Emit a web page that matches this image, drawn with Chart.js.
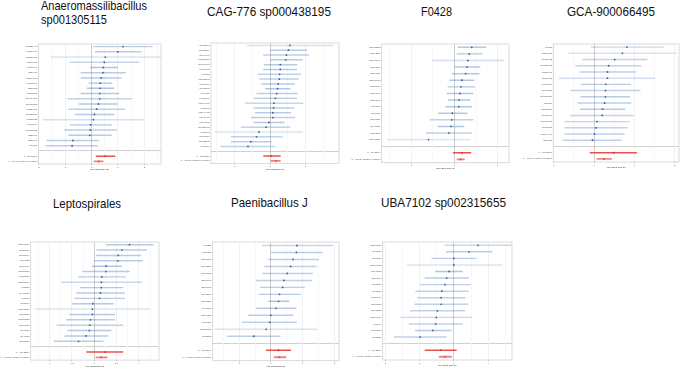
<!DOCTYPE html>
<html>
<head>
<meta charset="utf-8">
<script src="https://cdn.jsdelivr.net/npm/chart.js@4.4.1/dist/chart.umd.min.js"></script>
<style>
  body { margin: 0; background: #fff; }
  #wrap { position: relative; width: 685px; height: 369px; overflow: hidden; background: #fff; }
  .ttl { position: absolute; font: 13.5px 'Liberation Sans', Arial, sans-serif; line-height: 14px; color: #111; white-space: nowrap; transform-origin: 0 0; }
  canvas { position: absolute; }
</style>
</head>
<body>
<div id="wrap"></div>
<script>
// panel titles
const titles = [
  ['Anaeromassilibacillus', 'sp001305115'],
  ['CAG-776 sp000438195'],
  ['F0428'],
  ['GCA-900066495'],
  ['Leptospirales'],
  ['Paenibacillus J'],
  ['UBA7102 sp002315655']
]

// SNP labels per panel
const snps = [
  ['rs12221448','rs1267434','rs11380685','rs7068578','rs7801046','rs267419','rs11791176','rs7622781','rs269553','rs7590203','rs10914366','rs11757378','rs7234886','rs11432867','rs2185628','rs7891879','rs10617383','rs557960','rs297601','rs66295'],
  ['rs2432098','rs11382504','rs2941487','rs11384578','rs10867471','rs6660775','rs67575','rs11625902','rs9596184','rs1393989','rs699730','rs1176709','rs11619975','rs955662','rs11914432','rs7864700','rs7592405','rs10327965','rs821992','rs1396524','rs11722788','rs742601'],
  ['rs67635033','rs1192136','rs11668906','rs1176588','rs8896137','rs10028413','rs7258610','rs7296910','rs1203463','rs798180','rs687771','rs1916526','rs1476571','rs1185022','rs11669380'],
  ['rs9327','rs5568955','rs6659623','rs12375973','rs1558477','rs7060963','rs7096887','rs6962865','rs10138824','rs93587','rs11775603','rs6875976','rs11968173','rs1785515','rs11794974','rs728862'],
  ['rs10652901','rs4259981','rs7055704','rs897562','rs4598991','rs11750567','rs6255785','rs11172974','rs27585','rs4486021','rs40983','rs827976','rs10512876','rs6955063','rs11270552','rs7690803','rs671952','rs947558','rs2112567'],
  ['rs61251','rs256368','rs1250805','rs1672376','rs1381723','rs1266408','rs1266926','rs7712687','rs7593289','rs695762','rs1369730','rs890566','rs10834080','rs853763'],
  ['rs11270752','rs485930','rs789542','rs10249662','rs7927672','rs1292698','rs782519','rs715266','rs1387679','rs1321792','rs7422135','rs10668477','rs26997','rs7363298','rs125827']
]

// point estimates
const est = [
  [1.19,1.00,0.52,0.48,0.44,0.43,0.36,0.33,0.32,0.31,0.31,0.26,0.19,0.11,0.07,-0.04,-0.05,-0.07,-0.71,-0.74],
  [0.56,0.52,0.46,0.44,0.29,0.29,0.27,0.26,0.23,0.21,0.19,0.15,0.11,0.10,0.08,0.08,-0.03,-0.11,-0.31,-0.38,-0.54,-0.62],
  [0.40,0.34,0.31,0.29,0.26,0.17,0.15,0.13,0.11,0.10,-0.05,-0.06,-0.08,-0.13,-0.60],
  [0.81,0.70,0.51,0.36,0.33,0.33,0.29,0.28,0.28,0.26,0.21,0.20,0.07,0.05,0.01,-0.04],
  [0.79,0.62,0.54,0.53,0.27,0.26,0.17,0.16,0.16,0.14,0.12,-0.03,-0.04,-0.04,-0.08,-0.10,-0.11,-0.18,-0.35],
  [0.82,0.80,0.70,0.62,0.51,0.41,0.37,0.27,0.24,0.16,0.00,-0.04,-0.15,-0.54],
  [0.70,0.44,0.00,0.00,-0.14,-0.21,-0.26,-0.35,-0.37,-0.37,-0.48,-0.51,-0.53,-0.61,-0.98]
]
// lower 95% CI
const lower = [
  [0.09,0.14,-1.53,-0.81,-0.05,-0.41,-0.40,-0.10,-0.17,-0.41,-0.91,-0.47,-0.87,-0.62,-1.83,-0.81,-1.02,-0.87,-1.70,-1.73],
  [-0.64,0.01,-0.18,0.00,-0.16,-0.18,-0.34,-0.29,-0.23,-0.13,-0.37,-0.45,-0.69,-0.45,-0.41,-0.53,-0.45,-0.81,-1.55,-1.09,-1.09,-1.38],
  [0.08,0.06,-0.52,0.00,-0.05,-0.11,-0.15,-0.17,-0.14,-0.20,-0.37,-0.56,-0.38,-0.65,-1.55],
  [-0.07,-0.63,-0.28,-0.46,-0.36,-0.86,-0.32,-0.58,-0.33,-0.40,-0.34,-0.59,-0.73,-0.72,-0.73,-0.76],
  [0.27,0.06,0.04,0.00,-0.04,-0.26,-0.35,-0.73,-0.31,-0.39,-0.44,-0.49,-1.32,-0.55,-0.62,-0.83,-0.59,-0.66,-0.90],
  [-0.26,0.00,-0.07,-0.19,-0.26,-0.46,-0.33,-0.38,-0.07,-0.45,-0.70,-0.90,-1.76,-1.37],
  [-0.26,-0.22,-0.64,-1.36,-0.53,-0.84,-0.97,-1.11,-1.05,-1.14,-1.26,-1.54,-1.30,-1.12,-1.73]
]
// upper 95% CI
const upper = [
  [2.30,1.88,2.62,1.80,0.99,1.28,1.12,0.77,0.84,1.04,1.53,0.98,1.26,0.85,1.96,0.77,0.94,0.75,0.27,0.22],
  [1.77,1.03,1.09,0.91,0.75,0.75,0.86,0.79,0.69,0.56,0.77,0.75,0.93,0.67,0.58,0.70,0.40,0.56,0.92,0.35,0.03,0.14],
  [0.73,0.64,1.14,0.59,0.57,0.45,0.47,0.43,0.36,0.40,0.29,0.43,0.22,0.39,0.36],
  [1.71,2.04,1.31,1.16,1.02,1.50,0.90,1.14,0.88,0.92,0.76,0.97,0.87,0.82,0.75,0.67],
  [1.32,1.17,1.04,1.08,0.61,0.79,0.70,1.06,0.64,0.68,0.68,0.43,1.25,0.46,0.46,0.64,0.38,0.31,0.20],
  [1.94,1.62,1.50,1.42,1.31,1.29,1.06,0.93,0.57,0.79,0.70,0.80,1.46,0.29],
  [1.67,1.11,0.65,1.40,0.25,0.43,0.48,0.42,0.33,0.41,0.32,0.53,0.25,-0.08,-0.22]
]

// summary rows: [estimate, lower, upper]
const summaryLabels = ['All - MR Egger', 'All - Inverse variance weighted']
const egger = [[0.52,0.17,0.89],[0.04,-0.18,0.29],[0.17,-0.03,0.38],[0.48,-0.10,1.05],[0.24,-0.17,0.64],[0.24,-0.15,0.62],[-0.38,-0.84,0.07]]
const ivw = [[0.27,0.09,0.44],[0.16,0.03,0.29],[0.14,0.06,0.23],[0.25,0.07,0.43],[0.16,0.04,0.29],[0.27,0.10,0.47],[-0.26,-0.43,-0.07]]

// x axis ranges and major tick steps
const xRange = [[-2.02,2.63],[-1.66,1.94],[-1.68,1.26],[-1.01,2.10],[-1.42,1.45],[-1.83,2.14],[-2.07,1.69]]
const xStep = [1,1,1,1,0.5,1,1]
const xTitle = 'MR effect size for'

// where each panel sits on the page (plot frame, label column, title)
const boxes = [
  {l:38.3, t:42.7, r:163, b:164, lab:37, tx:41, ty:-0.7, tw:106},
  {l:211, t:41.7, r:340.7, b:163.3, lab:40, tx:207, ty:5, tw:124},
  {l:381.7, t:42.3, r:511, b:162.7, lab:40, tx:421, ty:5, tw:31},
  {l:553.3, t:42.5, r:681, b:162, lab:40, tx:567, ty:5, tw:88},
  {l:30.7, t:240.6, r:160.7, b:360.1, lab:30, tx:52.7, ty:196.6, tw:68},
  {l:212.7, t:240.5, r:340.7, b:360.7, lab:40, tx:231, ty:196, tw:76.7},
  {l:382.7, t:240, r:514, b:360, lab:40, tx:380.7, ty:196, tw:125}
]

Chart.defaults.font.family = "'Liberation Sans', Arial, sans-serif"
Chart.defaults.color = '#4d4d4d'

const frame = {
  id: 'frame',
  afterDatasetsDraw(chart) {
    const a = chart.chartArea, c = chart.ctx
    c.save()
    c.strokeStyle = '#d2d2d2'
    c.lineWidth = 0.8
    c.strokeRect(a.left, a.top, a.right - a.left, a.bottom - a.top)
    c.restore()
  }
}

const wrap = document.getElementById('wrap')
const isMajor = (v, step) => Math.abs(v / step - Math.round(v / step)) < 1e-6

boxes.forEach((bx, k) => {
  // title
  const t = document.createElement('div')
  t.className = 'ttl'
  t.innerHTML = titles[k].join('<br>')
  t.style.left = bx.tx + 'px'
  t.style.top = bx.ty + 'px'
  wrap.appendChild(t)
  const s = document.createElement('span')
  s.className = 'ttl'
  s.style.position = 'static'
  s.textContent = titles[k][0]
  wrap.appendChild(s)
  const firstW = s.getBoundingClientRect().width
  s.remove()
  t.style.transform = 'scaleX(' + (bx.tw / firstW) + ')'

  // canvas
  const n = snps[k].length
  const labels = snps[k].concat([''], summaryLabels)
  const left = Math.floor(bx.l - bx.lab), top = Math.floor(bx.t - 2)
  const W = Math.ceil(bx.r + 2 - left), H = Math.ceil(bx.b + 7 - top)
  const cv = document.createElement('canvas')
  cv.width = W
  cv.height = H
  cv.style.left = left + 'px'
  cv.style.top = top + 'px'
  wrap.appendChild(cv)

  const widths = lower[k].map((l, i) => upper[k][i] - l)
  const maxW = Math.max(...widths)
  const ciCols = widths.map(w => 'rgba(70,120,185,' + (0.5 - 0.3 * w / maxW).toFixed(2) + ')')
  const blank = [null, null, null]
  const step = xStep[k]

  new Chart(cv, {
    type: 'bar',
    data: {
      labels: labels,
      datasets: [
        {
          data: snps[k].map((s, i) => [lower[k][i], upper[k][i]]).concat(blank),
          backgroundColor: ciCols,
          barThickness: 0.8,
          grouped: false
        },
        {
          data: Array(n + 1).fill(null).concat([[egger[k][1], egger[k][2]], null]),
          backgroundColor: 'rgba(230,50,45,0.85)',
          barThickness: 0.9,
          grouped: false
        },
        {
          data: Array(n + 2).fill(null).concat([[ivw[k][1], ivw[k][2]]]),
          backgroundColor: 'rgba(235,90,90,0.75)',
          barThickness: 1.2,
          grouped: false
        },
        {
          type: 'scatter',
          data: est[k].map((e, i) => ({x: e, y: snps[k][i]}))
            .concat([{x: egger[k][0], y: summaryLabels[0]}, {x: ivw[k][0], y: summaryLabels[1]}]),
          pointRadius: 0.9,
          pointBorderWidth: 0,
          pointBackgroundColor: est[k].map(() => '#2a5699').concat(['#b51c1c', '#b51c1c'])
        }
      ]
    },
    options: {
      indexAxis: 'y',
      responsive: false,
      animation: false,
      events: [],
      layout: { padding: { top: bx.t - top, right: left + W - bx.r, left: 0, bottom: 0 } },
      plugins: { legend: { display: false }, tooltip: { enabled: false } },
      scales: {
        y: {
          type: 'category',
          border: { display: false },
          grid: {
            offset: false,
            drawTicks: false,
            lineWidth: 0.8,
            color: ctx => ctx.index === n ? '#c4c4c4' : 'rgba(0,0,0,0)'
          },
          ticks: { autoSkip: false, padding: 1.2, font: { size: 2.2 }, color: '#555' },
          afterFit: sc => { sc.width = bx.l - left }
        },
        x: {
          type: 'linear',
          min: xRange[k][0],
          max: xRange[k][1],
          border: { display: false },
          grid: {
            tickLength: 1.2,
            color: ctx => ctx.tick.value === 0 ? '#c2c2c2' : (isMajor(ctx.tick.value, step) ? '#ededed' : '#f6f6f6'),
            lineWidth: 0.8,
            tickColor: ctx => isMajor(ctx.tick.value, step) ? '#aaa' : 'rgba(0,0,0,0)'
          },
          ticks: {
            stepSize: step / 2,
            includeBounds: false,
            autoSkip: false,
            maxRotation: 0,
            padding: 0.5,
            font: { size: 2.4 },
            color: '#555',
            callback: v => isMajor(v, step) ? String(v) : ''
          },
          title: { display: true, text: xTitle, font: { size: 2.4 }, color: '#222', padding: 0 },
          afterFit: sc => { sc.height = H - (bx.b - top) }
        }
      }
    },
    plugins: [frame]
  })
})
</script>
</body>
</html>
